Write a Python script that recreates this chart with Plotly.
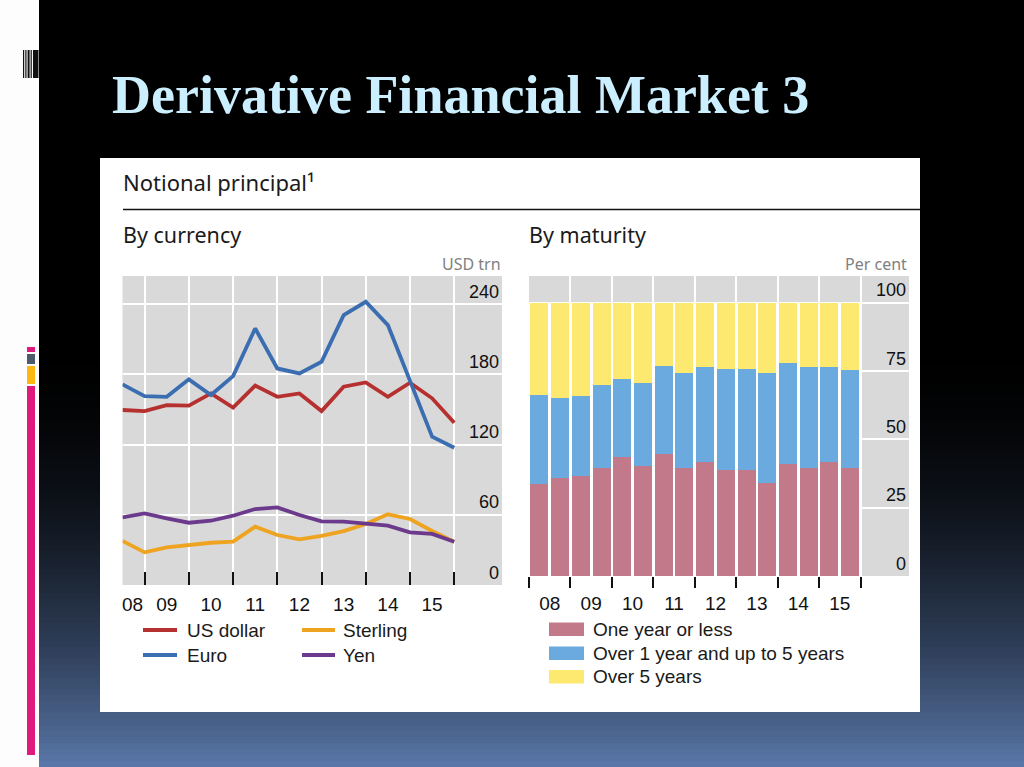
import plotly.graph_objects as go

W, H = 1024, 767


def px(x):
    return x / W


def py(y):
    return 1 - y / H


# ---------------- data ----------------
periods = ["2008 H1", "2008 H2", "2009 H1", "2009 H2", "2010 H1", "2010 H2",
           "2011 H1", "2011 H2", "2012 H1", "2012 H2", "2013 H1", "2013 H2",
           "2014 H1", "2014 H2", "2015 H1", "2015 H2"]
year_labels = ["08", "09", "10", "11", "12", "13", "14", "15"]

# By currency, USD trn
us_dollar = [149.5, 148.6, 153.7, 153.2, 163.7, 151.5, 170.3, 160.8,
             163.7, 148.6, 169.4, 173.1, 160.8, 172.8, 159.5, 138.6]
euro = [171.4, 161.4, 160.8, 175.7, 162.3, 178.5, 219.2, 185.0,
        180.8, 190.7, 230.6, 242.0, 222.0, 174.8, 126.7, 117.3]
sterling = [37.6, 27.9, 32.2, 34.2, 36.1, 37.0, 49.8, 42.7,
            39.0, 41.9, 46.1, 52.1, 60.4, 56.4, 46.1, 37.0]
yen = [57.8, 61.2, 57.0, 53.2, 54.9, 59.2, 64.9, 66.3,
       59.8, 54.4, 54.1, 52.1, 50.7, 45.0, 43.6, 37.0]

# By maturity, per cent
one_year_or_less = [33.7, 36.0, 36.6, 39.6, 43.5, 40.4, 44.5, 39.6,
                    41.8, 38.8, 38.8, 33.9, 40.9, 39.6, 41.8, 39.6]
one_to_five_years = [32.5, 29.2, 29.3, 30.3, 28.6, 30.1, 32.3, 34.8,
                     34.6, 37.1, 37.1, 40.3, 36.9, 36.8, 34.6, 35.8]
over_five_years = [33.8, 34.8, 34.1, 30.1, 27.9, 29.5, 23.2, 25.6,
                   23.6, 24.1, 24.1, 25.8, 22.2, 23.6, 23.6, 24.6]

left_ticks = [0, 60, 120, 180, 240]
right_ticks = [0, 25, 50, 75, 100]

# ---------------- styles ----------------
C_USD, C_EUR, C_GBP, C_JPY = "#b5302f", "#3b6eb0", "#eea321", "#6b3a8c"
C_SHORT, C_MID, C_LONG = "#c27a8a", "#6aaade", "#fde96f"
GRAY = "#d9d9d9"
TXT = "#1a1a1a"
SANS = "Liberation Sans, Arial, sans-serif"
HEAD = "Noto Sans, Open Sans, sans-serif"

idx = list(range(len(periods)))

fig = go.Figure()

for name, vals, col in [("US dollar", us_dollar, C_USD), ("Euro", euro, C_EUR),
                        ("Sterling", sterling, C_GBP), ("Yen", yen, C_JPY)]:
    fig.add_trace(go.Scatter(x=idx, y=vals, name=name, mode="lines",
                             line=dict(color=col, width=3.8),
                             xaxis="x", yaxis="y", showlegend=False,
                             cliponaxis=True))

for name, vals, col in [("One year or less", one_year_or_less, C_SHORT),
                        ("Over 1 year and up to 5 years", one_to_five_years, C_MID),
                        ("Over 5 years", over_five_years, C_LONG)]:
    fig.add_trace(go.Bar(x=idx, y=vals, name=name, marker=dict(color=col, line=dict(width=0)),
                         xaxis="x2", yaxis="y2", showlegend=False))

# ---------------- background shapes ----------------
shapes = []
# gradient background (black -> blue)
g0, g1 = 335, 767
top_col = (0, 0, 0)
bot_col = (90, 120, 170)
step = 6
y = g0
while y < g1:
    f = ((y + step / 2 - g0) / (g1 - g0)) ** 2
    c = tuple(int(round(top_col[i] + (bot_col[i] - top_col[i]) * f)) for i in range(3))
    shapes.append(dict(type="rect", xref="paper", yref="paper", layer="below",
                       x0=px(39), x1=1, y0=py(min(y + step + 1, g1)), y1=py(y),
                       fillcolor="rgb(%d,%d,%d)" % c, line=dict(width=0)))
    y += step

# white strip on the left
shapes.append(dict(type="rect", xref="paper", yref="paper", layer="below",
                   x0=0, x1=px(39), y0=0, y1=1, fillcolor="#fdfdfd", line=dict(width=0)))
# barcode decoration
for a, b in [(23, 24.2), (25.3, 26.5), (27.6, 29.6), (30.6, 31.8), (33, 38.5)]:
    shapes.append(dict(type="rect", xref="paper", yref="paper", layer="below",
                       x0=px(a), x1=px(b), y0=py(78), y1=py(50),
                       fillcolor="#111111", line=dict(width=0)))
# colour bars
for a, b, col in [(347, 352, "#e2197c"), (354, 364, "#4f5b6b"),
                  (366, 384, "#fdb813"), (386, 755, "#e2197c")]:
    shapes.append(dict(type="rect", xref="paper", yref="paper", layer="below",
                       x0=px(27), x1=px(35), y0=py(b), y1=py(a),
                       fillcolor=col, line=dict(width=0)))

# white panel
shapes.append(dict(type="rect", xref="paper", yref="paper", layer="below",
                   x0=px(100), x1=px(920), y0=py(712), y1=py(158),
                   fillcolor="white", line=dict(width=0)))
# gray plot areas
shapes.append(dict(type="rect", xref="paper", yref="paper", layer="below",
                   x0=px(122.5), x1=px(502), y0=py(585), y1=py(276),
                   fillcolor=GRAY, line=dict(width=0)))
shapes.append(dict(type="rect", xref="paper", yref="paper", layer="below",
                   x0=px(529), x1=px(909), y0=py(576), y1=py(276),
                   fillcolor=GRAY, line=dict(width=0)))
# white area behind bars (shows in bar gaps)
shapes.append(dict(type="rect", xref="x2", yref="y2", layer="below",
                   x0=-0.5, x1=len(periods) - 0.5, y0=0, y1=100,
                   fillcolor="white", line=dict(width=0)))
# horizontal rule
shapes.append(dict(type="line", xref="paper", yref="paper",
                   x0=px(123), x1=px(920), y0=py(209.5), y1=py(209.5),
                   line=dict(color="#111111", width=1.6)))

# legend samples
for x0, x1, y0, col in [(143, 177, 630, C_USD), (143, 177, 655, C_EUR),
                        (302, 335, 630, C_GBP), (302, 335, 655, C_JPY)]:
    shapes.append(dict(type="line", xref="paper", yref="paper",
                       x0=px(x0), x1=px(x1), y0=py(y0), y1=py(y0),
                       line=dict(color=col, width=4)))
for y0, y1, col in [(622.5, 636, C_SHORT), (646.5, 660, C_MID), (670, 683.5, C_LONG)]:
    shapes.append(dict(type="rect", xref="paper", yref="paper",
                       x0=px(549), x1=px(584), y0=py(y1), y1=py(y0),
                       fillcolor=col, line=dict(width=0)))

# ---------------- annotations ----------------
ann = []


def text(t, x, y, size, color=TXT, family=SANS, xanchor="left", weight="normal"):
    ann.append(dict(text=t, x=px(x), y=py(y), xref="paper", yref="paper",
                    xanchor=xanchor, yanchor="middle", showarrow=False,
                    font=dict(size=size, color=color, family=family, weight=weight)))


text("Derivative Financial Market 3", 110, 95, 54, color="#ccefff",
     family="Liberation Serif, Times New Roman, serif", weight="bold")
text("Notional principal¹", 121, 182, 22, family=HEAD)
text("By currency", 121, 235, 21.5, family=HEAD)
text("By maturity", 527, 235, 21.5, family=HEAD)
text("USD trn", 503, 264, 16, color="#808080", family=HEAD, xanchor="right")
text("Per cent", 909, 264, 16, color="#808080", family=HEAD, xanchor="right")

text("US dollar", 185, 630, 19)
text("Euro", 185, 655, 19)
text("Sterling", 341, 630, 19)
text("Yen", 341, 655, 19)
text("One year or less", 591, 629, 19)
text("Over 1 year and up to 5 years", 591, 653, 19)
text("Over 5 years", 591, 676, 19)

# ---------------- axes ----------------
left_label_pos = [0.45] + [2 * i for i in range(1, len(year_labels))]
left_year_ends = [2 * i + 1 for i in range(len(year_labels))]
right_label_pos = [2 * i + 0.5 for i in range(len(year_labels))]
right_year_ends = [2 * i - 0.5 for i in range(len(year_labels) + 1)]

tickfont = dict(size=18, color="#111111", family=SANS)
xtickfont = dict(size=19, color="#111111", family=SANS)

fig.update_layout(
    width=W, height=H,
    margin=dict(l=0, r=0, t=0, b=0),
    paper_bgcolor="black",
    plot_bgcolor="rgba(0,0,0,0)",
    barmode="stack",
    bargap=0.13,
    showlegend=False,
    hovermode=False,
    shapes=shapes,
    annotations=ann,
    xaxis=dict(domain=[px(122.5), px(502)], range=[0, 17.16], anchor="y",
               tickmode="array", tickvals=left_label_pos, ticktext=year_labels,
               ticks="", showgrid=False, zeroline=False, showline=False,
               tickfont=xtickfont, ticklabelstandoff=6,
               minor=dict(tickmode="array", tickvals=left_year_ends, ticks="inside",
                          ticklen=13, tickwidth=2, tickcolor="#111111",
                          showgrid=True, gridcolor="white", gridwidth=2)),
    yaxis=dict(domain=[py(585), py(276)], range=[0, 264], anchor="x", side="right",
               tickmode="array", tickvals=left_ticks, ticks="",
               ticklabelposition="inside top", showgrid=True, gridcolor="white",
               gridwidth=2, zeroline=False, showline=False, tickfont=tickfont),
    xaxis2=dict(domain=[px(529), px(909)], range=[-0.5, 17.84], anchor="y2",
                tickmode="array", tickvals=right_label_pos, ticktext=year_labels,
                ticks="", showgrid=False, zeroline=False, showline=False,
                tickfont=xtickfont, ticklabelstandoff=14,
                minor=dict(tickmode="array", tickvals=right_year_ends, ticks="outside",
                           ticklen=11, tickwidth=1.6, tickcolor="#111111",
                           showgrid=True, gridcolor="white", gridwidth=2)),
    yaxis2=dict(domain=[py(576), py(276)], range=[0, 109.8], anchor="x2", side="right",
                tickmode="array", tickvals=right_ticks, ticks="",
                ticklabelposition="inside top", showgrid=True, gridcolor="white",
                gridwidth=2, zeroline=False, showline=False, tickfont=tickfont),
)

fig.write_html("out.html",
               config={"displayModeBar": False},
               post_script="document.body.style.margin='0px';"
                           "document.body.style.overflow='hidden';")
